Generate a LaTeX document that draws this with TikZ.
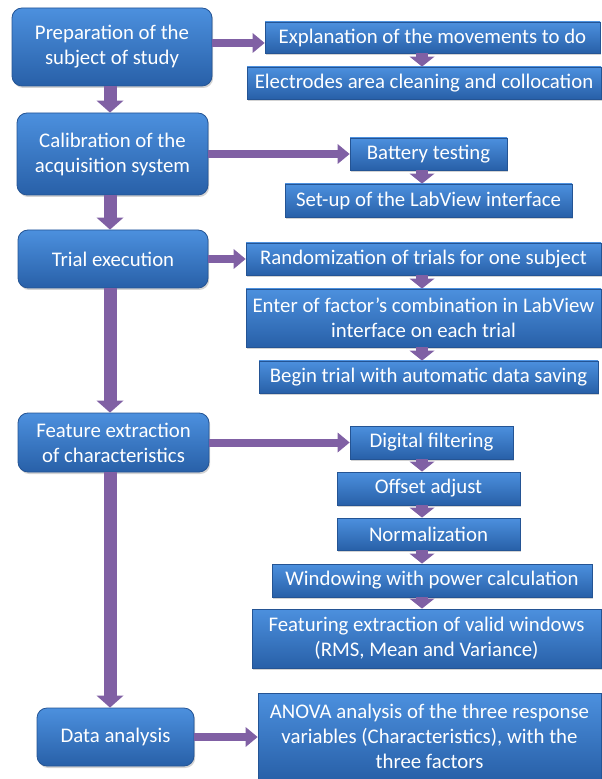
\documentclass[tikz,border=0pt]{standalone}
\usepackage{fontspec}
\setmainfont{Carlito}
\usepackage{tikz}
\usetikzlibrary{arrows.meta, shadows}
\definecolor{boxtop}{RGB}{76,144,222}
\definecolor{boxbot}{RGB}{40,96,168}
\definecolor{boxline}{RGB}{36,84,148}
\definecolor{arrpurple}{RGB}{128,96,164}

\begin{document}
\begin{tikzpicture}[x=0.5pt, y=-0.5pt,
  font=\fontsize{10.4}{12.5}\selectfont,
  stage/.style={draw=boxline, line width=0.4pt, rounded corners=5pt,
                top color=boxtop, bottom color=boxbot, text=white,
                align=center, inner sep=0pt,
                drop shadow={opacity=0.35, shadow xshift=0.6pt, shadow yshift=-1pt}},
  task/.style={stage, rounded corners=0pt},
  harr/.style={draw=arrpurple, line width=4pt,
               -{Triangle[width=10pt, length=6pt, line width=0pt]}},
  varr/.style={draw=arrpurple, line width=6.5pt,
               -{Triangle[width=13.5pt, length=6pt, line width=0pt]}},
  sarr/.style={draw=arrpurple, line width=6pt,
               -{Triangle[width=12.5pt, length=5pt, line width=0pt]}}
]
\useasboundingbox (0,0) rectangle (601,779);

% main stages
\node[stage, minimum width=100pt, minimum height=39pt] (prep) at (112,47)
  {Preparation of the\\subject of study};
\node[stage, minimum width=95.5pt, minimum height=41pt] (calib) at (112.5,154)
  {Calibration of the\\acquisition system};
\node[stage, minimum width=95pt, minimum height=29pt] (trial) at (113,259)
  {Trial execution};
\node[stage, minimum width=95.5pt, minimum height=29.5pt] (feat) at (113.5,442.5)
  {Feature extraction\\of characteristics};
\node[stage, minimum width=78.5pt, minimum height=29pt] (data) at (115.5,737)
  {Data analysis};

% tasks
\node[task, minimum width=167.5pt, minimum height=15.5pt] (expl) at (432.5,37.5)
  {Explanation of the movements to do};
\node[task, minimum width=177pt, minimum height=16pt] (elec) at (424,83)
  {Electrodes area cleaning and collocation};
\node[task, minimum width=78.5pt, minimum height=16pt] (batt) at (428.5,154)
  {Battery testing};
\node[task, minimum width=143.5pt, minimum height=16.5pt] (setup) at (428.5,200.5)
  {Set-up of the LabView interface};
\node[task, minimum width=177.5pt, minimum height=16pt] (rand) at (423.5,259)
  {Randomization of trials for one subject};
\node[task, minimum width=177.5pt, minimum height=29pt] (enter) at (423.5,318)
  {Enter of factor’s combination in LabView\\interface on each trial};
\node[task, minimum width=169.5pt, minimum height=16pt] (begin) at (428.5,377)
  {Begin trial with automatic data saving};
\node[task, minimum width=81.5pt, minimum height=16.5pt] (filt) at (431.5,442.5)
  {Digital filtering};
\node[task, minimum width=91.5pt, minimum height=16.5pt] (offs) at (428.5,488.5)
  {Offset adjust};
\node[task, minimum width=91.5pt, minimum height=16pt] (norm) at (428.5,534)
  {Normalization};
\node[task, minimum width=160pt, minimum height=16.5pt] (wind) at (432,580.5)
  {Windowing with power calculation};
\node[task, minimum width=174.5pt, minimum height=29.5pt] (valid) at (426.5,638.5)
  {Featuring extraction of valid windows\\(RMS, Mean and Variance)};
\node[task, minimum width=171.5pt, minimum height=43.5pt] (anova) at (429.5,736.5)
  {ANOVA analysis of the three response\\variables (Characteristics), with the\\three factors};

\coordinate (col) at (422,0);

% flow between stages
\draw[varr] (prep.south -| 110,0) -- (calib.north -| 110,0);
\draw[varr] (calib.south -| 110,0) -- (trial.north -| 110,0);
\draw[varr] (trial.south -| 110,0) -- (feat.north -| 110,0);
\draw[varr] (feat.south -| 110,0) -- (data.north -| 110,0);

% stage to first task
\draw[harr] ([yshift=2pt]prep.east) -- ([yshift=2pt]prep.east -| expl.west);
\draw[harr] (calib.east) -- (calib.east -| batt.west);
\draw[harr] (trial.east) -- (trial.east -| rand.west);
\draw[harr] (feat.east) -- (feat.east -| filt.west);
\draw[harr] (data.east) -- (data.east -| anova.west);

% steps within tasks
\draw[sarr] (expl.south -| col) -- (elec.north -| col);
\draw[sarr] (batt.south -| col) -- (setup.north -| col);
\draw[sarr] (rand.south -| col) -- (enter.north -| col);
\draw[sarr] (enter.south -| col) -- (begin.north -| col);
\draw[sarr] (filt.south -| col) -- (offs.north -| col);
\draw[sarr] (offs.south -| col) -- (norm.north -| col);
\draw[sarr] (norm.south -| col) -- (wind.north -| col);
\draw[sarr] (wind.south -| col) -- (valid.north -| col);
\end{tikzpicture}
\end{document}
